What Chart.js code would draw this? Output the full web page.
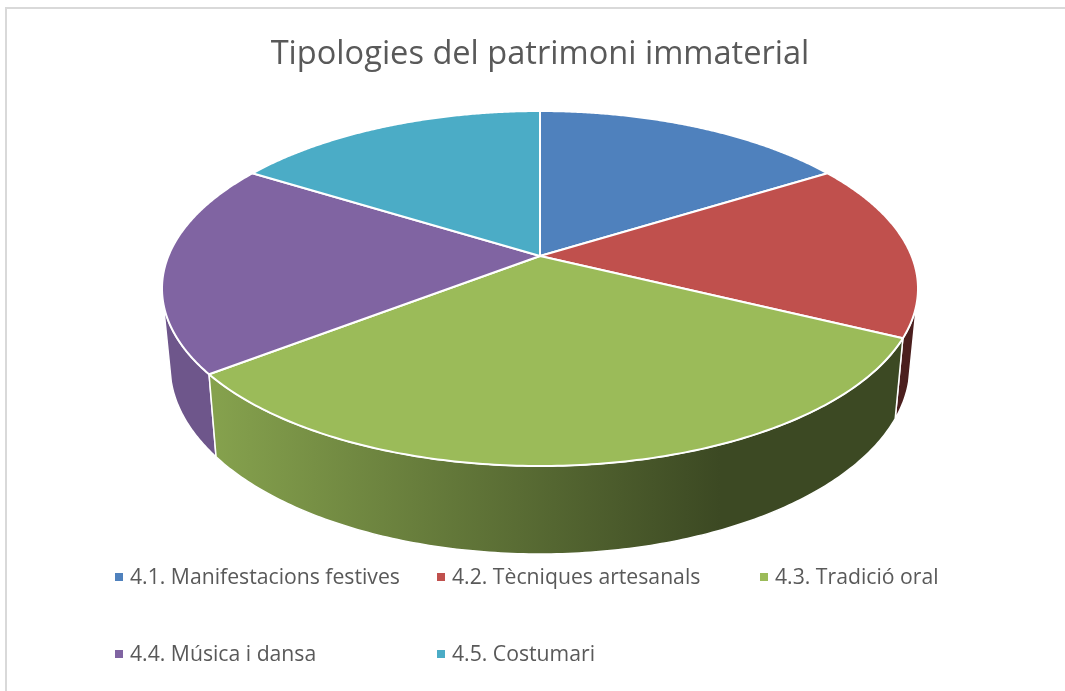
<!DOCTYPE html>
<html>
<head>
<meta charset="utf-8">
<style>html,body{margin:0;padding:0;background:#fff}canvas{display:block}</style>
<script src="https://cdn.jsdelivr.net/npm/chart.js@4"></script>
</head>
<body>
<canvas id="c" width="1065" height="691"></canvas>
<script>
const categories = ['4.1. Manifestacions festives','4.2. Tècniques artesanals','4.3. Tradició oral','4.4. Música i dansa','4.5. Costumari'];
const values = [5, 5, 10, 6, 5];
const colors = ['#4f81bd','#c0504d','#9bbb59','#8064a2','#4bacc6'];
const titleText = 'Tipologies del patrimoni immaterial';
const FONT = '"Open Sans", sans-serif';

const TEXT = '#595959', FRAME = '#d9d9d9';
const TOP_RY = 177.5, APEX_K = 0.183, BOT_RX = 370, BOT_RY = 188, WALL_V = 0.08;
const legendCols = [115, 437, 760], legendRows = [578, 655];

function rgb(hex){ return [1,3,5].map(i => parseInt(hex.substr(i,2),16)); }
function shade(hex,f){ return 'rgb(' + rgb(hex).map(c => Math.round(c*f)).join(',') + ')'; }
function proj(a){
  const u = Math.cos(a), v = Math.sin(a), d = 1 - APEX_K*v;
  return {u: u*Math.sqrt(1-APEX_K*APEX_K)/d, v: (v-APEX_K)/d};
}

const pie3d = {
  id:'pie3d',
  beforeDraw(chart){
    const ctx = chart.ctx;
    ctx.save();
    ctx.fillStyle = '#fff'; ctx.fillRect(0,0,chart.width,chart.height);
    ctx.strokeStyle = FRAME; ctx.lineWidth = 2;
    ctx.beginPath(); ctx.moveTo(6,691); ctx.lineTo(6,8); ctx.lineTo(1065,8); ctx.stroke();
    ctx.restore();
  },
  beforeDatasetsDraw(chart){
    const ctx = chart.ctx, A = chart.chartArea;
    const arcs = chart.getDatasetMeta(0).data;
    const cx = (A.left+A.right)/2, rx = (A.right-A.left)/2;
    const cyT = A.top + TOP_RY, cyB = A.bottom - BOT_RY;
    const T = p => [cx + rx*p.u, cyT + TOP_RY*p.v];
    const B = p => [cx + BOT_RX*p.u, cyB + BOT_RY*p.v];
    const samples = arc => {
      const n = 160, out = [];
      for (let i=0;i<=n;i++) out.push(proj(arc.startAngle + (arc.endAngle-arc.startAngle)*i/n));
      return out;
    };
    ctx.save();
    ctx.lineJoin = 'round';
    // side walls, back to front
    [1,3,2].forEach(i => {
      const pts = samples(arcs[i]).filter(p => p.v >= WALL_V);
      if (!pts.length) return;
      const g = ctx.createLinearGradient(216,0,720,0);
      g.addColorStop(0, shade(colors[i],0.86));
      g.addColorStop(1, shade(colors[i],0.39));
      ctx.beginPath();
      pts.forEach((p,j) => { const q=T(p); j?ctx.lineTo(q[0],q[1]):ctx.moveTo(q[0],q[1]); });
      pts.slice().reverse().forEach(p => { const q=B(p); ctx.lineTo(q[0],q[1]); });
      ctx.closePath();
      ctx.fillStyle = g; ctx.fill();
      ctx.strokeStyle = '#fff'; ctx.lineWidth = 1.5; ctx.stroke();
    });
    // top faces
    arcs.forEach((arc,i) => {
      ctx.beginPath();
      ctx.moveTo(cx, cyT - APEX_K*TOP_RY);
      samples(arc).forEach(p => { const q=T(p); ctx.lineTo(q[0],q[1]); });
      ctx.closePath();
      ctx.fillStyle = colors[i]; ctx.fill();
      ctx.strokeStyle = '#fff'; ctx.lineWidth = 2; ctx.stroke();
    });
    ctx.restore();
    return false;
  },
  afterDraw(chart){
    const ctx = chart.ctx;
    ctx.save();
    ctx.font = '400 21.2px ' + FONT;
    ctx.textBaseline = 'middle';
    chart.data.labels.forEach((label,i) => {
      const x = legendCols[i%3], y = legendRows[Math.floor(i/3)];
      ctx.fillStyle = colors[i];
      ctx.fillRect(x, y-5, 8, 8);
      ctx.fillStyle = TEXT;
      ctx.fillText(label, x+15, y);
    });
    ctx.restore();
  }
};

new Chart(document.getElementById('c'), {
  type:'pie',
  data:{labels:categories, datasets:[{data:values, backgroundColor:colors, borderColor:'#fff'}]},
  options:{
    responsive:false, animation:false,
    layout:{padding:{left:162,right:147,bottom:137,top:0}},
    plugins:{
      legend:{display:false},
      tooltip:{enabled:false},
      title:{display:true,text:titleText,color:TEXT,font:{family:FONT,size:32.6,weight:'400',lineHeight:1.2},padding:{top:35,bottom:36.9}}
    }
  },
  plugins:[pie3d]
});
</script>
</body>
</html>
